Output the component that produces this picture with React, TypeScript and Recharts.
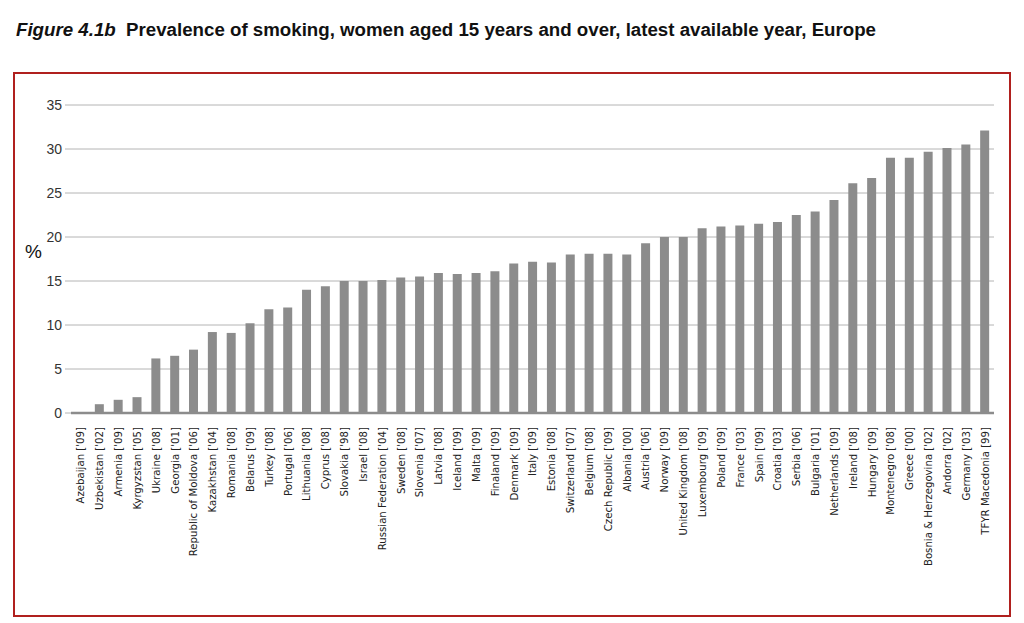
import { BarChart, Bar, XAxis, YAxis, CartesianGrid } from "recharts";

// country + survey year, sorted ascending as in the source figure
const countries = [
  "Azebaijan ['09]", "Uzbekistan ['02]", "Armenia ['09]", "Kyrgyzstan ['05]", "Ukraine ['08]",
  "Georgia ['01]", "Republic of Moldova ['06]", "Kazakhstan ['04]", "Romania ['08]", "Belarus ['09]",
  "Turkey ['08]", "Portugal ['06]", "Lithuania ['08]", "Cyprus ['08]", "Slovakia ['98]",
  "Israel ['08]", "Russian Federation ['04]", "Sweden ['08]", "Slovenia ['07]", "Latvia ['08]",
  "Iceland ['09]", "Malta ['09]", "Finaland ['09]", "Denmark ['09]", "Italy ['09]",
  "Estonia ['08]", "Switzerland ['07]", "Belgium ['08]", "Czech Republic  ['09]", "Albania ['00]",
  "Austria ['06]", "Norway ['09]", "United Kingdom ['08]", "Luxembourg ['09]", "Poland ['09]",
  "France ['03]", "Spain ['09]", "Croatia ['03]", "Serbia ['06]", "Bulgaria ['01]",
  "Netherlands ['09]", "Ireland ['08]", "Hungary ['09]", "Montenegro ['08]", "Greece ['00]",
  "Bosnia & Herzegovina ['02]", "Andorra ['02]", "Germany  ['03]", "TFYR Macedonia [99]",
];

const prevalence = [
  0, 1.0, 1.5, 1.8, 6.2,
  6.5, 7.2, 9.2, 9.1, 10.2,
  11.8, 12.0, 14.0, 14.4, 15.0,
  15.0, 15.1, 15.4, 15.5, 15.9,
  15.8, 15.9, 16.1, 17.0, 17.2,
  17.1, 18.0, 18.1, 18.1, 18.0,
  19.3, 20.0, 20.0, 21.0, 21.2,
  21.3, 21.5, 21.7, 22.5, 22.9,
  24.2, 26.1, 26.7, 29.0, 29.0,
  29.7, 30.1, 30.5, 32.1,
];

const yTicks = [0, 5, 10, 15, 20, 25, 30, 35];

const data = countries.map((name, i) => ({ name, value: prevalence[i] }));

const labelFont = "'Liberation Sans Narrow', 'DejaVu Sans Condensed', 'Liberation Sans', sans-serif";

const CountryTick = (props: any) => {
  const { x, y, payload } = props;
  return (
    <g transform={`translate(${x},${y})`}>
      <text
        transform="rotate(-90)"
        textAnchor="end"
        dy="0.35em"
        fontSize={11.3}
        fontFamily={labelFont}
        fill="#222"
      >
        {payload.value}
      </text>
    </g>
  );
};

export default function App() {
  return (
    <div style={{ position: "relative", width: 1024, height: 623, background: "#fff" }}>
      <style>{`body{margin:0}`}</style>
      {/* heading */}
      <div
        style={{
          position: "absolute",
          left: 16,
          top: 19,
          fontFamily: "'Liberation Sans', Arial, sans-serif",
          fontWeight: "bold",
          fontSize: 18.7,
          lineHeight: "22px",
          color: "#111",
          whiteSpace: "nowrap",
        }}
      >
        <i>Figure 4.1b</i>&nbsp; Prevalence of smoking, women aged 15 years and over, latest available year, Europe
      </div>
      {/* red frame */}
      <div
        style={{
          position: "absolute",
          left: 13,
          top: 72,
          width: 994,
          height: 541,
          border: "2px solid #b0201e",
        }}
      />
      <div
        style={{
          position: "absolute",
          left: 25,
          top: 241,
          fontFamily: "'Liberation Sans', Arial, sans-serif",
          fontSize: 19,
          color: "#111",
        }}
      >
        %
      </div>
      <div style={{ position: "absolute", left: 0, top: 0 }}>
        <BarChart
          width={1024}
          height={623}
          data={data}
          margin={{ top: 105, right: 30, left: 0, bottom: 60 }}
          barSize={9}
        >
          <CartesianGrid vertical={false} stroke="#b4b4b4" strokeWidth={1} />
          <XAxis
            dataKey="name"
            interval={0}
            height={150}
            tickLine={false}
            tickSize={0}
            tickMargin={14}
            axisLine={{ stroke: "#8c8c8c", strokeWidth: 2.5 }}
            tick={<CountryTick />}
          />
          <YAxis
            domain={[0, 35]}
            ticks={yTicks}
            width={71}
            axisLine={false}
            tickSize={6}
            tickMargin={3}
            tickLine={{ stroke: "#b4b4b4" }}
            tick={{ fontSize: 14, fill: "#333", fontFamily: "'Liberation Sans', Arial, sans-serif" }}
          />
          <Bar dataKey="value" fill="#8c8c8c" isAnimationActive={false} />
        </BarChart>
      </div>
    </div>
  );
}
